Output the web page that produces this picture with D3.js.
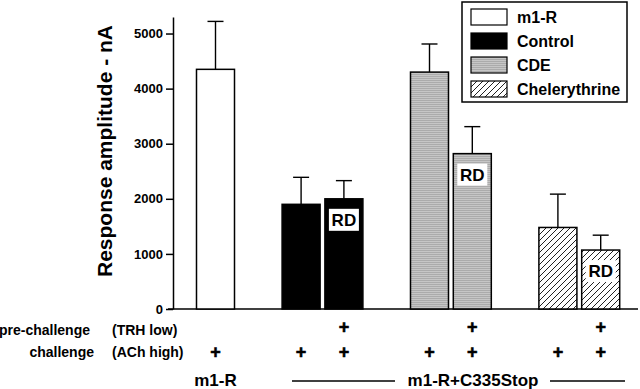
<!DOCTYPE html>
<html>
<head>
<meta charset="utf-8">
<script src="https://cdn.jsdelivr.net/npm/d3@7"></script>
<style>
  html, body { margin: 0; padding: 0; background: #fff; }
  svg { display: block; font-family: "Liberation Sans", Arial, sans-serif; font-weight: bold; }
</style>
</head>
<body>
<div id="chart"></div>
<script>
// slots along the x axis (blank slots separate the groups)
const slots = ["m1-R", "gap1", "Control", "Control RD", "gap2", "CDE", "CDE RD", "gap3", "Chelerythrine", "Chelerythrine RD"]
const bars = ["m1-R", "Control", "Control RD", "CDE", "CDE RD", "Chelerythrine", "Chelerythrine RD"]
const groupOf = ["m1-R", "Control", "Control", "CDE", "CDE", "Chelerythrine", "Chelerythrine"]
const means = [4350, 1900, 2000, 4300, 2820, 1480, 1070]
const sems = [870, 490, 330, 510, 490, 605, 270]
const preChallenge = [false, false, true, false, true, false, true]
const challenge = [true, true, true, true, true, true, true]
const rdLabel = [false, false, true, false, true, false, true]
const yTicks = [0, 1000, 2000, 3000, 4000, 5000]
const legendItems = ["m1-R", "Control", "CDE", "Chelerythrine"]

const width = 640, height = 389

const svg = d3.select("#chart").append("svg")
  .attr("width", width).attr("height", height)

const defs = svg.append("defs")
const gray = defs.append("pattern").attr("id", "gray")
  .attr("width", 3).attr("height", 2).attr("patternUnits", "userSpaceOnUse")
gray.append("rect").attr("width", 3).attr("height", 2).attr("fill", "#c6c6c6")
gray.append("rect").attr("width", 3).attr("height", 1).attr("fill", "#ababab")

const hatch = defs.append("pattern").attr("id", "hatch")
  .attr("width", 6).attr("height", 6).attr("patternUnits", "userSpaceOnUse")
hatch.append("rect").attr("width", 6).attr("height", 6).attr("fill", "#fff")
hatch.append("path").attr("d", "M0,6 L6,0 M-1,1 L1,-1 M5,7 L7,5")
  .attr("stroke", "#222").attr("stroke-width", 1)

const fillFor = {
  "m1-R": "#fff",
  "Control": "#000",
  "CDE": "url(#gray)",
  "Chelerythrine": "url(#hatch)"
}

const x = d3.scaleBand().domain(slots).range([194.1, 622.1])
  .paddingInner(0.112).paddingOuter(0.056)
const y = d3.scaleLinear().domain([0, 5300]).range([309, 17])

// y axis
svg.append("g").attr("transform", "translate(173,0)")
  .call(d3.axisLeft(y).tickValues(yTicks).tickFormat(d3.format("d"))
    .tickSize(7).tickPadding(3).tickSizeOuter(0))
  .call(g => g.select(".domain").attr("stroke", "#000").attr("stroke-width", 1.5))
  .call(g => g.selectAll(".tick line").attr("stroke", "#000").attr("stroke-width", 1.5))
  .call(g => g.selectAll(".tick text").attr("font-size", 13).attr("font-weight", "bold")
    .attr("fill", "#000").attr("font-family", "Liberation Sans, Arial, sans-serif"))

svg.append("text")
  .attr("transform", "translate(112,151) rotate(-90)")
  .attr("text-anchor", "middle").attr("font-size", 21)
  .text("Response amplitude - nA")

// x baseline
svg.append("line").attr("x1", 168).attr("x2", 638)
  .attr("y1", y(0)).attr("y2", y(0))
  .attr("stroke", "#000").attr("stroke-width", 1.5)

const data = bars.map((b, i) => ({
  name: b, group: groupOf[i], mean: means[i], sem: sems[i],
  pre: preChallenge[i], ch: challenge[i], rd: rdLabel[i]
}))

const cx = d => x(d.name) + x.bandwidth() / 2

// error bars (upper only)
svg.append("g").selectAll("g").data(data).join("g")
  .each(function (d) {
    const g = d3.select(this)
    g.append("line").attr("x1", cx(d)).attr("x2", cx(d))
      .attr("y1", y(d.mean)).attr("y2", y(d.mean + d.sem))
      .attr("stroke", "#000").attr("stroke-width", 1.4)
    g.append("line").attr("x1", cx(d) - 8).attr("x2", cx(d) + 8)
      .attr("y1", y(d.mean + d.sem)).attr("y2", y(d.mean + d.sem))
      .attr("stroke", "#000").attr("stroke-width", 1.4)
  })

// bars
svg.append("g").selectAll("rect").data(data).join("rect")
  .attr("x", d => x(d.name))
  .attr("y", d => y(d.mean))
  .attr("width", x.bandwidth())
  .attr("height", d => y(0) - y(d.mean))
  .attr("fill", d => fillFor[d.group])
  .attr("stroke", "#000").attr("stroke-width", 1.5)

// RD labels
const rd = svg.append("g").selectAll("g").data(data.filter(d => d.rd)).join("g")
  .attr("transform", d => `translate(${cx(d)},${y(d.mean) + 21})`)
rd.append("rect").attr("x", -15).attr("y", -11).attr("width", 30).attr("height", 22)
  .attr("fill", "#fff")
rd.append("text").attr("text-anchor", "middle").attr("y", 6)
  .attr("font-size", 17).text("RD")

// treatment rows
svg.append("text").attr("x", 90).attr("y", 335).attr("text-anchor", "end")
  .attr("font-size", 14).text("pre-challenge")
svg.append("text").attr("x", 112).attr("y", 335).attr("font-size", 14).text("(TRH low)")
svg.append("text").attr("x", 94).attr("y", 357).attr("text-anchor", "end")
  .attr("font-size", 14).text("challenge")
svg.append("text").attr("x", 112).attr("y", 357).attr("font-size", 14).text("(ACh high)")

const plusStyle = s => s.attr("text-anchor", "middle").attr("font-size", 18)
  .attr("stroke", "#000").attr("stroke-width", 0.6).text("+")
svg.append("g").selectAll("text").data(data.filter(d => d.pre)).join("text")
  .attr("x", cx).attr("y", 333).call(plusStyle)
svg.append("g").selectAll("text").data(data.filter(d => d.ch)).join("text")
  .attr("x", cx).attr("y", 358).call(plusStyle)

// construct labels
svg.append("text").attr("x", cx(data[0])).attr("y", 386).attr("text-anchor", "middle")
  .attr("font-size", 17).text("m1-R")
svg.append("text").attr("x", 473).attr("y", 386).attr("text-anchor", "middle")
  .attr("font-size", 17).text("m1-R+C335Stop")
svg.append("line").attr("x1", 292).attr("x2", 395).attr("y1", 381).attr("y2", 381)
  .attr("stroke", "#000").attr("stroke-width", 1.5)
svg.append("line").attr("x1", 550).attr("x2", 625).attr("y1", 381).attr("y2", 381)
  .attr("stroke", "#000").attr("stroke-width", 1.5)

// legend
const legend = svg.append("g").attr("transform", "translate(462,2)")
legend.append("rect").attr("width", 165).attr("height", 100)
  .attr("fill", "#fff").attr("stroke", "#000").attr("stroke-width", 1.5)
const li = legend.selectAll("g.item").data(legendItems).join("g")
  .attr("class", "item")
  .attr("transform", (d, i) => `translate(9,${7 + i * 24})`)
li.append("rect").attr("width", 36).attr("height", 16)
  .attr("fill", d => fillFor[d]).attr("stroke", "#000").attr("stroke-width", 1.2)
li.append("text").attr("x", 46).attr("y", 14).attr("font-size", 16).text(d => d)
</script>
</body>
</html>
